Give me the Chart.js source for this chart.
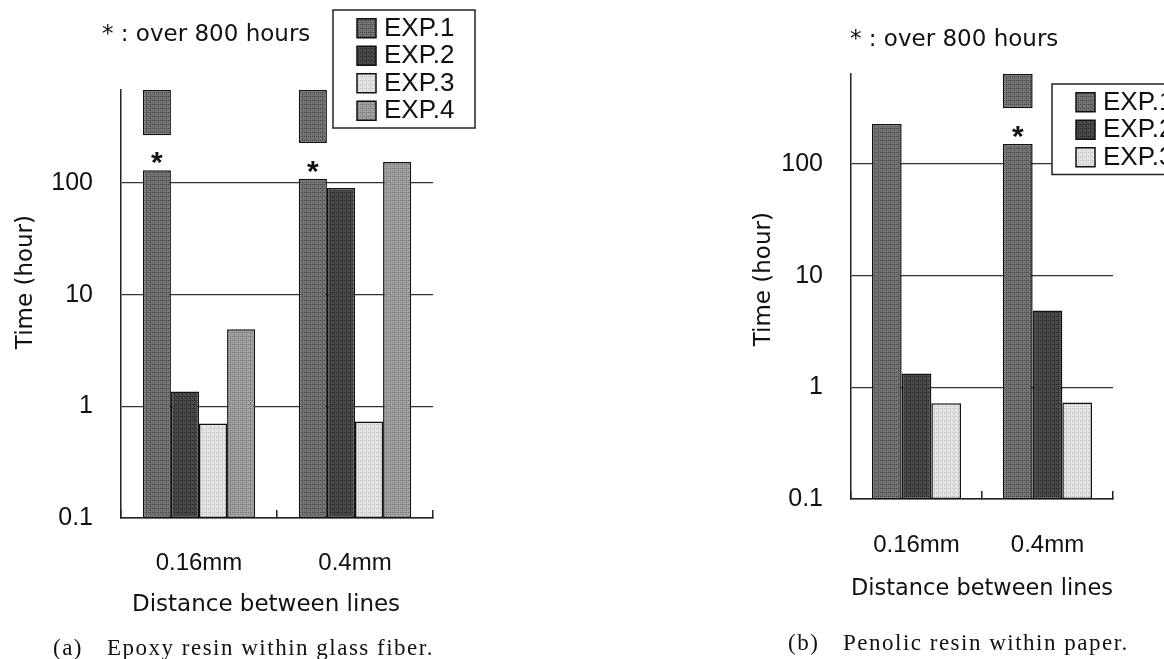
<!DOCTYPE html>
<html>
<head>
<meta charset="utf-8">
<script src="https://cdn.jsdelivr.net/npm/chart.js@4/dist/chart.umd.min.js"></script>
<style>
html, body { margin: 0; padding: 0; background: #fff; overflow: hidden; width: 1164px; height: 659px; }
.box { position: absolute; top: 0; height: 659px; }
.note { position: absolute; font-family: "DejaVu Sans", sans-serif; font-size: 23px; color: #111; white-space: nowrap; line-height: 24px; }
.cap { position: absolute; font-family: "Liberation Serif", serif; font-size: 23px; color: #111; white-space: nowrap; line-height: 22px; letter-spacing: 1.5px; }
</style>
</head>
<body>
<div class="box" style="left:0;width:490px"><canvas id="chartA"></canvas></div>
<div class="box" style="left:700px;width:520px"><canvas id="chartB"></canvas></div>
<div class="note" style="left:102px;top:21px">* : over 800 hours</div>
<div class="note" style="left:850px;top:26px">* : over 800 hours</div>
<div class="cap" style="left:53px;top:637px">(a)</div>
<div class="cap" style="left:107px;top:637px">Epoxy resin within glass fiber.</div>
<div class="cap" style="left:788px;top:632px">(b)</div>
<div class="cap" style="left:843px;top:632px">Penolic resin within paper.</div>
<script>
"use strict";
// shared axis stuff
const categories = ['0.16mm', '0.4mm'];
const tickValues = [0.1, 1, 10, 100];

// (a) epoxy resin / glass fiber
const epoxyExp1 = [130, 109];
const epoxyExp2 = [1.36, 90];
const epoxyExp3 = [0.70, 0.73];
const epoxyExp4 = [4.9, 154];
const epoxyOver = [[268, 680], [228, 680]];   // broken bar piece, run went past 800 h
const epoxyStar = [true, true];

// (b) phenolic resin / paper
const phenolExp1 = [228, 151];
const phenolExp2 = [1.33, 4.87];
const phenolExp3 = [0.72, 0.73];
const phenolOver = [null, [316, 640]];
const phenolStar = [false, true];

const FONT = '"Liberation Sans", Arial, sans-serif';
const WIDE = '"DejaVu Sans", sans-serif';
const NB = '\u00a0';

function dots(base, dot) {
    var c = document.createElement('canvas');
    c.width = 4; c.height = 4;
    var g = c.getContext('2d');
    g.fillStyle = base; g.fillRect(0, 0, 4, 4);
    g.fillStyle = dot;
    g.fillRect(0, 0, 1, 1); g.fillRect(2, 2, 1, 1);
    g.fillRect(2, 0, 1, 1);
    return g.createPattern(c, 'repeat');
}
const fills = {
    exp1: dots('#747474', '#404040'),
    exp2: dots('#4a4a4a', '#1e1e1e'),
    exp3: dots('#e4e4e4', '#bbb'),
    exp4: dots('#a0a0a0', '#707070')
};

function bar(label, data, fill, stack) {
    return {
        label: label, data: data, stack: stack,
        backgroundColor: fill, borderColor: '#111', borderWidth: 1.5,
        borderSkipped: false, barPercentage: 1
    };
}

// legend box + asterisks, drawn on top of the chart
const extras = {
    id: 'extras',
    afterDraw: function(chart, args, opts) {
        var ctx = chart.ctx, area = chart.chartArea;
        ctx.save();
        // asterisks over EXP.1
        var meta = chart.getDatasetMeta(0);
        ctx.fillStyle = '#111';
        ctx.font = 'bold 30px ' + FONT;
        ctx.textAlign = 'center';
        ctx.textBaseline = 'alphabetic';
        opts.stars.forEach(function(on, i) {
            if (!on) return;
            var el = meta.data[i];
            ctx.fillText('*', el.x, el.y + 2);
        });
        // legend
        var items = chart.data.datasets.filter(function(d) { return !d.hideInLegend; });
        var bx = area.right + opts.legendDx, by = area.top + opts.legendDy;
        var row = 27.5, w = opts.legendW, h = items.length * row + 8;
        ctx.fillStyle = '#fff';
        ctx.fillRect(bx, by, w, h);
        ctx.strokeStyle = '#222';
        ctx.lineWidth = 1.5;
        ctx.strokeRect(bx, by, w, h);
        ctx.font = '26px ' + FONT;
        ctx.textAlign = 'left';
        ctx.textBaseline = 'middle';
        items.forEach(function(d, k) {
            var cy = by + 4 + row * k + row / 2;
            ctx.fillStyle = d.backgroundColor;
            ctx.fillRect(bx + 24, cy - 9, 19, 19);
            ctx.strokeStyle = '#111';
            ctx.strokeRect(bx + 24, cy - 9, 19, 19);
            ctx.fillStyle = '#111';
            ctx.fillText(d.label, bx + 51, cy + 1);
        });
        ctx.restore();
    }
};

function makeChart(id, datasets, cfg) {
    return new Chart(document.getElementById(id).getContext('2d'), {
        type: 'bar',
        data: { labels: categories, datasets: datasets },
        plugins: [extras],
        options: {
            responsive: true,
            maintainAspectRatio: false,
            animation: false,
            categoryPercentage: cfg.catPct,
            layout: { padding: cfg.pad },
            plugins: {
                legend: { display: false },
                tooltip: { enabled: false },
                extras: { stars: cfg.stars, legendDx: cfg.legendDx, legendDy: cfg.legendDy, legendW: cfg.legendW }
            },
            scales: {
                x: {
                    offset: true,
                    grid: { offset: true, drawOnChartArea: false, drawTicks: true, tickLength: -8, color: '#222', lineWidth: 1.5 },
                    border: { color: '#222', width: 1.5 },
                    ticks: { color: '#111', font: { family: FONT, size: 24 }, padding: cfg.xTickPad },
                    title: { display: true, text: cfg.xTitle, color: '#111', font: { family: WIDE, size: 23 }, padding: { top: 0, bottom: cfg.xTitlePad } },
                    afterFit: function(s) { s.height = 110; }
                },
                y: {
                    type: 'logarithmic',
                    stacked: false,
                    min: 0.1,
                    max: cfg.yMax,
                    bounds: 'data',
                    afterBuildTicks: function(s) { s.ticks = tickValues.map(function(v) { return { value: v }; }); },
                    grid: { drawTicks: false, color: '#333', lineWidth: 1.3 },
                    border: { color: '#222', width: 1.5 },
                    ticks: { color: '#111', font: { family: FONT, size: 25 }, padding: 28, callback: function(v) { return String(v); } },
                    title: { display: true, text: cfg.yTitle, color: '#111', font: { family: WIDE, size: 23 }, padding: { top: 12, bottom: 0 } },
                    afterFit: function(s) { s.width = cfg.yWidth; }
                }
            }
        }
    });
}

var overA = bar('over', epoxyOver, fills.exp1, 's1');
overA.hideInLegend = true;
makeChart('chartA', [
    bar('EXP.1', epoxyExp1, fills.exp1, 's1'),
    bar('EXP.2', epoxyExp2, fills.exp2, 's2'),
    bar('EXP.3', epoxyExp3, fills.exp3, 's3'),
    bar('EXP.4', epoxyExp4, fills.exp4, 's4'),
    overA
], {
    catPct: 0.72, pad: { left: 0, right: 57, top: 90, bottom: 31 },
    yWidth: 121, yMax: 680, xTickPad: 39, xTitlePad: 9,
    xTitle: 'Distance between lines' + NB.repeat(3),
    yTitle: NB.repeat(6) + 'Time (hour)',
    stars: epoxyStar, legendDx: -100, legendDy: -80, legendW: 142
});

var overB = bar('over', phenolOver, fills.exp1, 's1');
overB.hideInLegend = true;
makeChart('chartB', [
    bar('EXP.1', phenolExp1, fills.exp1, 's1'),
    bar('EXP.2', phenolExp2, fills.exp2, 's2'),
    bar('EXP.3', phenolExp3, fills.exp3, 's3'),
    overB
], {
    catPct: 0.68, pad: { left: 38, right: 107, top: 74, bottom: 50 },
    yWidth: 113, yMax: 640, xTickPad: 40, xTitlePad: 6,
    xTitle: 'Distance between lines',
    yTitle: NB.repeat(2) + 'Time (hour)',
    stars: phenolStar, legendDx: -61, legendDy: 10, legendW: 142
});
</script>
</body>
</html>
